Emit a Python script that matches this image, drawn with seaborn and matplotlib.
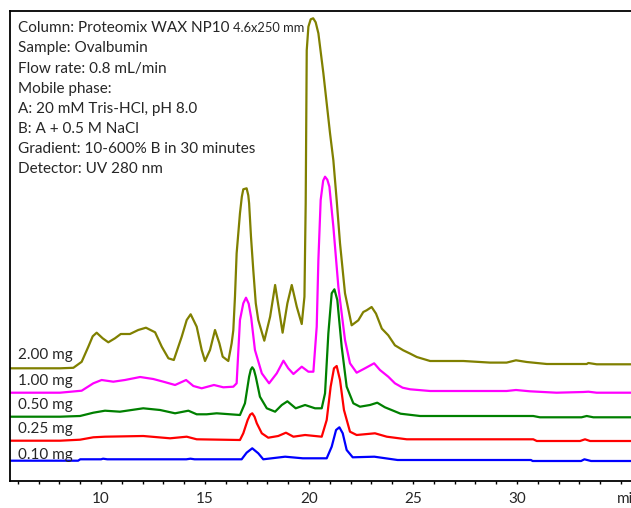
import matplotlib
matplotlib.use("Agg")
import numpy as np
import pandas as pd
import matplotlib.pyplot as plt
import seaborn as sns

# Ovalbumin on Proteomix WAX NP10, five sample loads
# retention time (min) and signal above each trace's own baseline (a.u.)
t_200 = [5.6, 8.03, 8.67, 9.07, 9.39, 9.6, 9.79, 10.08, 10.35, 10.67, 10.95, 11.39, 11.79, 12.16,
         12.6, 12.92, 13.24, 13.5, 13.88, 14.12, 14.31, 14.6, 14.84, 15.0, 15.24, 15.48, 15.69,
         15.85, 16.12, 16.28, 16.36, 16.44, 16.52, 16.68, 16.77, 16.84, 17.0, 17.08, 17.12, 17.21,
         17.32, 17.44, 17.56, 17.85, 18.13, 18.37, 18.56, 18.73, 18.96, 19.17, 19.41, 19.65, 19.78,
         19.84, 19.89, 19.97, 20.08, 20.2, 20.32, 20.45, 20.69, 21.01, 21.17, 21.33, 21.49, 21.73,
         22.05, 22.37, 22.61, 22.77, 23.01, 23.22, 23.5, 23.81, 24.13, 24.53, 24.86, 25.18, 25.82,
         27.42, 28.7, 29.5, 29.95, 30.47, 31.43, 33.35, 33.43, 33.83, 36.5]
s_200 = [0, 0, 0.5, 6.5, 21.6, 32, 35.6, 30, 26, 30, 34.3, 34.3, 38.3, 40.6,
         36, 21.6, 10, 8.3, 31.6, 48.3, 54, 41.6, 18.3, 7.3, 18.3, 38.3, 25,
         11.6, 7.3, 25, 38, 71.6, 115, 155, 171.6, 179, 180, 173, 165, 131.6,
         98.3, 65, 48.3, 27.6, 51.6, 83.3, 58.3, 35.6, 65, 83.3, 61.6, 44.3, 71.6,
         165, 318, 341.6, 349, 350, 346, 335, 295, 235, 208, 168, 125, 75,
         43, 48, 56.3, 58, 61.3, 54.7, 39.7, 33, 23, 18, 14.7, 11.3, 7.3,
         7.3, 5.7, 5.7, 8, 6.3, 4.3, 4.3, 5.3, 4, 4]

t_100 = [5.6, 8.03, 9.07, 9.63, 10.03, 10.59, 11.15, 11.88, 12.51, 13.0, 13.56, 14.09, 14.44,
         14.84, 15.43, 15.88, 16.36, 16.52, 16.68, 16.84, 16.97, 17.1, 17.22, 17.4, 17.73, 18.08,
         18.45, 18.77, 19.0, 19.25, 19.65, 19.97, 20.21, 20.37, 20.45, 20.56, 20.68, 20.77, 20.88,
         20.98, 21.17, 21.41, 21.73, 21.97, 22.29, 22.69, 23.13, 23.41, 23.81, 24.13, 24.5, 24.86,
         25.82, 29.5, 29.95, 30.62, 31.9, 33.19, 33.43, 33.83, 36.5]
s_100 = [0, 0, 2, 9.4, 12.7, 11, 12.7, 15.7, 13.7, 11, 7.7, 12.7, 6.7,
         4.4, 7.7, 5.4, 6, 9.4, 72.7, 89.4, 95, 89, 75, 42.7, 19.4, 9.4,
         19.4, 32, 24.4, 18.7, 26, 21, 21, 66, 132.7, 192.7, 212, 216, 213,
         206, 166, 106, 52.7, 29.4, 20, 24.4, 29.4, 22.7, 16, 9.4, 5, 3.4,
         1.7, 1.7, 2.7, 1.4, 0, 0.7, 1, 0, 0]

t_050 = [5.6, 8.03, 8.99, 9.63, 10.19, 10.91, 12.03, 12.84, 13.56, 14.2, 14.6, 15.08, 15.56,
         16.68, 16.92, 17.12, 17.2, 17.27, 17.35, 17.44, 17.64, 17.97, 18.37, 18.69, 18.96, 19.36,
         19.81, 20.29, 20.61, 20.77, 20.93, 21.09, 21.22, 21.36, 21.57, 21.81, 22.13, 22.45, 22.93,
         23.28, 23.65, 24.05, 24.4, 25.34, 30.78, 31.1, 33.1, 33.35, 33.67, 36.5]
s_050 = [0, 0, 0.7, 4, 6, 5, 8.4, 6.7, 3.4, 6, 2.4, 2.4, 3.4,
         1.7, 13.4, 40, 47, 49.4, 47, 40, 20, 8.4, 5, 11.7, 15.4, 8.4,
         11.7, 8.4, 8.4, 23.4, 83.4, 123.4, 127.4, 116.7, 70, 30, 13.4, 10, 11.7,
         14, 9.4, 6, 3, 0.7, 0.7, -0.6, -0.6, 0.7, -0.6, -0.6]

t_025 = [5.6, 8.03, 8.99, 9.63, 10.19, 12.03, 13.32, 14.12, 14.6, 16.68, 16.84, 17.05, 17.17,
         17.27, 17.38, 17.49, 17.73, 18.04, 18.52, 18.89, 19.25, 19.81, 20.61, 20.85, 21.04, 21.2,
         21.33, 21.49, 21.68, 21.97, 22.29, 23.17, 23.74, 24.7, 30.78, 30.95, 33.03, 33.27, 33.51,
         36.5]
s_025 = [0, 0, 1, 3.4, 4, 4.7, 2.4, 4, 1.4, 0.7, 7.4, 20.7, 26, 27.4, 24, 17.4, 7.4, 3,
         4.7, 8, 4, 5.7, 4, 20.7, 54, 72.4, 74.7, 60.7, 30.7, 9, 5.7, 7.4, 4, 1.4, 1.4, -0.3,
         -0.3, 1.4, -0.3, -0.3]

t_010 = [5.6, 8.9, 9.0, 10.0, 10.1, 10.3, 14.1, 14.3, 14.5, 16.76, 17.0, 17.27, 17.56, 17.8,
         18.85, 19.7, 20.85, 21.09, 21.3, 21.46, 21.62, 21.81, 22.1, 23.14, 24.26, 30.67, 30.75,
         33.08, 33.24, 33.56, 36.5]
s_010 = [0, 0, 1.4, 1.4, 2, 1.4, 1.4, 2, 1.4, 1.4, 8, 12.4, 7.4, 1.4,
         4, 2.4, 2.4, 14, 30.7, 33.4, 27.4, 10.7, 3.4, 4, 0.7, 0.7, -0.3,
         -0.3, 1.4, -0.3, -0.3]

loads = ["2.00 mg", "1.00 mg", "0.50 mg", "0.25 mg", "0.10 mg"]
times = [t_200, t_100, t_050, t_025, t_010]
signals = [s_200, s_100, s_050, s_025, s_010]

method_lines = ["Sample: Ovalbumin", "Flow rate: 0.8 mL/min", "Mobile phase:",
                "A: 20 mM Tris-HCl, pH 8.0", "B: A + 0.5 M NaCl",
                "Gradient: 10-600% B in 30 minutes", "Detector: UV 280 nm"]

# vertical stacking of the traces (display offsets)
offsets = [112.7, 88.3, 64.3, 40.3, 20.3]
colors = ["#808000", "#ff00ff", "#008000", "#ff0000", "#0000ff"]

frames = []
for name, t, s, off in zip(loads, times, signals, offsets):
    frames.append(pd.DataFrame({"time": t, "signal": np.array(s) + off, "load": name}))
df = pd.concat(frames, ignore_index=True)

sns.set_style("white")
plt.rcParams["font.family"] = ["Lato", "DejaVu Sans"]

W, H = 631, 508
fig = plt.figure(figsize=(W / 100, H / 100), dpi=100)
x0, x1 = 5.6, 36.5
px_per_min = 20.8
ax = fig.add_axes([9.5 / W, 27 / H, (x1 - x0) * px_per_min / W, 470 / H])

sns.lineplot(data=df, x="time", y="signal", hue="load", palette=colors, hue_order=loads,
             sort=False, estimator=None, legend=False, linewidth=1.6, ax=ax)

ax.set_xlim(x0, x1)
ax.set_ylim(0, 470)
ax.set_xlabel("")
ax.set_ylabel("")
ax.set_yticks([])
ax.set_xticks([10, 15, 20, 25, 30])
ax.set_xticks(np.arange(6, 37, 1), minor=True)
ax.tick_params(axis="x", which="both", direction="out", length=2.2, width=1.0,
               color="black", pad=6, labelsize=11, bottom=True)
for side in ["left", "bottom", "top"]:
    ax.spines[side].set_color("black")
    ax.spines[side].set_linewidth(1.3)
ax.spines["right"].set_visible(False)

# axis unit sits where the 35 label would be, running off the right edge
fig.text(617 / W, 1 - 502.7 / H, "min", fontsize=11, va="baseline", ha="left")

# method text in the top left corner
fig.text(18 / W, 1 - 32.3 / H, "Column: Proteomix WAX NP10", fontsize=11, va="baseline")
fig.text(233 / W, 1 - 32.3 / H, "4.6x250 mm", fontsize=9.3, va="baseline")
for i, line in enumerate(method_lines):
    fig.text(18 / W, 1 - (52.4 + 20.1 * i) / H, line, fontsize=11, va="baseline")

# load labels over the left end of each trace
label_base = [358.5, 385, 409, 433, 459]
for name, yb in zip(loads, label_base):
    fig.text(18 / W, 1 - yb / H, name, fontsize=11, va="baseline")

fig.savefig("out.png", dpi=100)
